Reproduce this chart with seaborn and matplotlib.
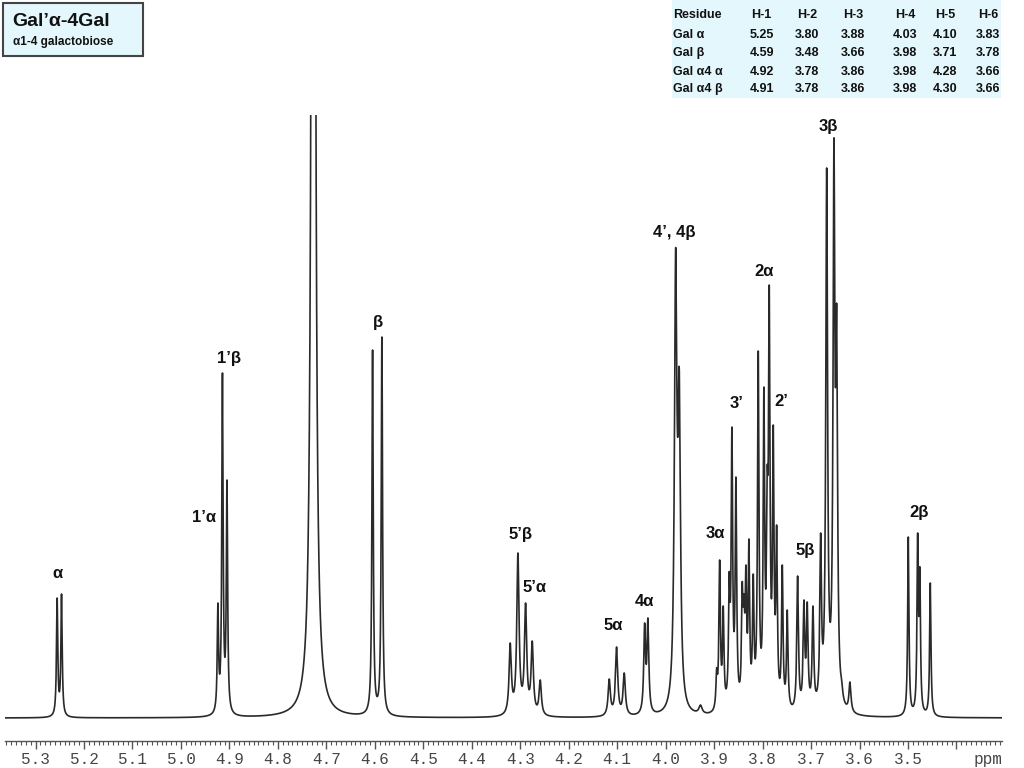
import numpy as np
import pandas as pd
import seaborn as sns
import matplotlib.pyplot as plt
from matplotlib.patches import Rectangle
from matplotlib.ticker import MultipleLocator, FuncFormatter

# 1H NMR of alpha1-4 galactobiose, lines
# shift (ppm), height above baseline, half width (ppm)
peak_ppm = [5.2554, 5.2463,
            4.9237, 4.9143, 4.9050,
            4.7268,
            4.6046, 4.5854,
            4.3206, 4.3047, 4.2889, 4.2752, 4.2587,
            4.1163, 4.1011, 4.0854,
            4.0433, 4.0365,
            3.9793, 3.9719, 3.9280,
            3.8947, 3.8885, 3.8811, 3.8687, 3.8632, 3.8549,
            3.8419, 3.8384, 3.8343, 3.8281, 3.8192,
            3.8089, 3.7972, 3.7903, 3.7862, 3.7779, 3.7709, 3.7593, 3.7490,
            3.7276, 3.7146, 3.7078, 3.6960, 3.6801,
            3.6677, 3.6527, 3.6471, 3.6368, 3.6197,
            3.4993, 3.4800, 3.4755, 3.4539]
peak_height = [120, 124,
               115, 345, 238,
               3000,
               368, 381,
               75, 165, 115, 77, 38,
               39, 71, 45,
               95, 100,
               470, 350, 13,
               50, 158, 112, 146, 291, 241,
               136, 124, 153, 179, 144,
               367, 331, 251, 433, 293, 193, 153, 108,
               142, 118, 116, 112, 185,
               550, 580, 413, 38, 36,
               181, 185, 151, 135]
peak_hw = [0.0016, 0.0016,
           0.0016, 0.0016, 0.0016,
           0.0027,
           0.0016, 0.0016,
           0.0028, 0.0028, 0.0028, 0.0028, 0.0028,
           0.0028, 0.0028, 0.0028,
           0.0022, 0.0022,
           0.0030, 0.0030, 0.0040,
           0.0018, 0.0018, 0.0018, 0.0018, 0.0018, 0.0018,
           0.0018, 0.0018, 0.0018, 0.0018, 0.0018,
           0.0018, 0.0018, 0.0018, 0.0018, 0.0018, 0.0018, 0.0018, 0.0018,
           0.0020, 0.0020, 0.0020, 0.0020, 0.0020,
           0.0022, 0.0022, 0.0022, 0.0025, 0.0025,
           0.0016, 0.0016, 0.0016, 0.0016]

label_text = ["α", "1’α", "1’β", "β", "5’β", "5’α", "5α", "4α", "4’, 4β",
              "3α", "3’", "2α", "2’", "5β", "3β", "2β"]
label_ppm = [5.254, 4.9525, 4.901, 4.5943, 4.2992, 4.2697, 4.1081, 4.0427, 3.9814,
             3.8972, 3.8528, 3.797, 3.762, 3.7125, 3.6651, 3.4767]
label_h = [145, 200, 360, 396, 183, 130, 93, 117, 485,
           184, 315, 446, 316, 167, 592, 205]

# assignment table
residues = ["Gal α", "Gal β", "Gal α4 α", "Gal α4 β"]
protons = ["H-1", "H-2", "H-3", "H-4", "H-5", "H-6"]
shifts = [["5.25", "3.80", "3.88", "4.03", "4.10", "3.83"],
          ["4.59", "3.48", "3.66", "3.98", "3.71", "3.78"],
          ["4.92", "3.78", "3.86", "3.98", "4.28", "3.66"],
          ["4.91", "3.78", "3.86", "3.98", "4.30", "3.66"]]

# lorentzian lines, amplitudes solved so the summed curve hits the read heights
p = np.array(peak_ppm)
w = np.array(peak_hw)
A = w[None, :] ** 2 / (w[None, :] ** 2 + (p[:, None] - p[None, :]) ** 2)
amp = np.clip(np.linalg.solve(A, np.array(peak_height, float)), 0, None)

ppm = np.arange(3.300, 5.370, 0.0001)
inten = (amp[None, :] * w[None, :] ** 2 /
         (w[None, :] ** 2 + (ppm[:, None] - p[None, :]) ** 2)).sum(axis=1)
spec = pd.DataFrame({"ppm": ppm, "intensity": inten})

sns.set_theme(style="white")
plt.rcParams['font.family'] = ['Liberation Sans', 'DejaVu Sans']

fig = plt.figure(figsize=(10.24, 7.68), dpi=100)
ax = fig.add_axes([5 / 1024, 1 - 741 / 768, 997 / 1024, 626 / 768])
sns.lineplot(data=spec, x="ppm", y="intensity", estimator=None, sort=False,
             color="#2a2a2a", linewidth=1.2, ax=ax)
ax.set_xlim(5.363, 3.306)
ax.set_ylim(-23, 603)
ax.set_xlabel("")
ax.set_ylabel("")
ax.set_yticks([])
for s in ["left", "right", "top"]:
    ax.spines[s].set_visible(False)
ax.spines["bottom"].set_color("#555555")
ax.spines["bottom"].set_linewidth(1.0)
ax.xaxis.set_major_locator(MultipleLocator(0.1))
ax.xaxis.set_minor_locator(MultipleLocator(0.01))
ax.xaxis.set_major_formatter(FuncFormatter(lambda v, pos: "" if v < 3.45 else f"{v:.1f}"))
ax.tick_params(axis="x", which="major", direction="out", length=6, width=1,
               color="#555555", labelcolor="#444444", pad=2, bottom=True)
ax.tick_params(axis="x", which="minor", direction="out", length=3, width=0.8,
               color="#555555", bottom=True)
for lab in ax.get_xticklabels():
    lab.set_family(["Liberation Mono", "DejaVu Sans Mono"])
    lab.set_fontsize(11.5)
ax.text(1.0, -0.029, "ppm", transform=ax.transAxes, ha="right", va="center",
        family=["Liberation Mono", "DejaVu Sans Mono"], fontsize=11.5, color="#444444")

for t, x, y in zip(label_text, label_ppm, label_h):
    ax.text(x, y, t, ha="center", va="center", fontsize=12, fontweight="bold",
            color="#111111", clip_on=False)

# title box
fig.patches.append(Rectangle((2.7 / 1024, 1 - 56 / 768), 140.6 / 1024, 53.3 / 768,
                             transform=fig.transFigure, facecolor="#e4f7fc",
                             edgecolor="#444444", linewidth=1.5))
fig.text(12.7 / 1024, 1 - 21 / 768, "Gal’α-4Gal", fontsize=14, fontweight="bold",
         ha="left", va="center", color="#111111")
fig.text(12.7 / 1024, 1 - 42.5 / 768, "α1-4 galactobiose", fontsize=8.5,
         fontweight="bold", ha="left", va="center", color="#111111")

# shift table
fig.patches.append(Rectangle((672 / 1024, 1 - 98 / 768), 329 / 1024, 98 / 768,
                             transform=fig.transFigure, facecolor="#e4f7fc",
                             edgecolor="none"))
col_x = [761.7, 806.7, 853, 905, 945, 988]
row_y = [15, 35, 52.7, 71.7, 89.3]
fig.text(673 / 1024, 1 - row_y[0] / 768, "Residue", fontsize=9, fontweight="bold",
         ha="left", va="center", color="#111111")
for cx, h in zip(col_x, protons):
    fig.text(cx / 1024, 1 - row_y[0] / 768, h, fontsize=9, fontweight="bold",
             ha="center", va="center", color="#111111")
for r, (res, vals) in enumerate(zip(residues, shifts)):
    ry = 1 - row_y[r + 1] / 768
    fig.text(673 / 1024, ry, res, fontsize=9, fontweight="bold", ha="left",
             va="center", color="#111111")
    for cx, v in zip(col_x, vals):
        fig.text(cx / 1024, ry, v, fontsize=9, fontweight="bold", ha="center",
                 va="center", color="#111111")

fig.savefig("out.png", dpi=100)
